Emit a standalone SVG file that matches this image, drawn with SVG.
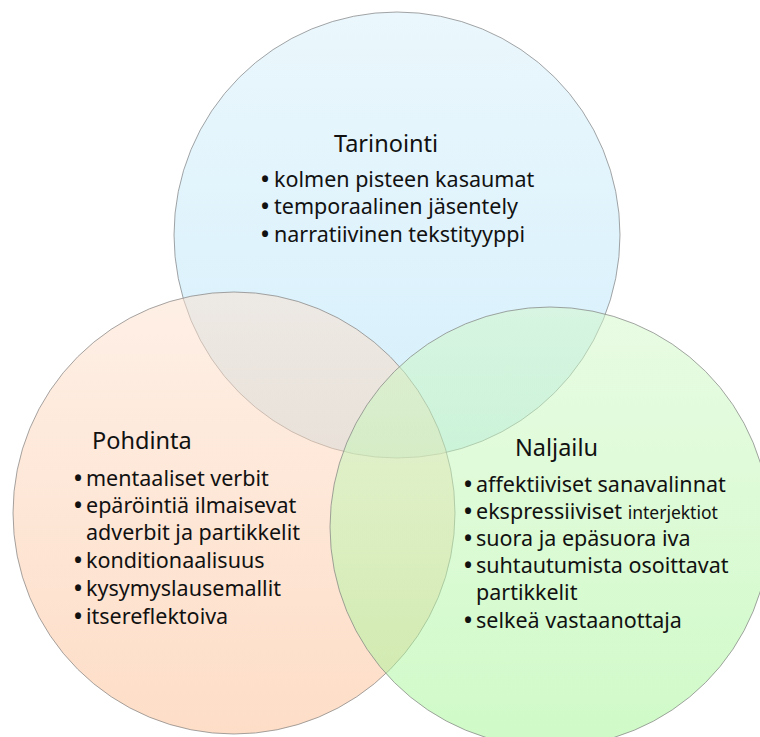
<svg xmlns="http://www.w3.org/2000/svg" width="760" height="737" viewBox="0 0 760 737">
<defs>
<linearGradient id="gb" x1="0" y1="0" x2="0" y2="1"><stop offset="0" stop-color="#d6effa"/><stop offset="1" stop-color="#abe0f8"/></linearGradient>
<linearGradient id="go" x1="0" y1="0" x2="0" y2="1"><stop offset="0" stop-color="#fde0cd"/><stop offset="1" stop-color="#fcbc8f"/></linearGradient>
<linearGradient id="gg" x1="0" y1="0" x2="0" y2="1"><stop offset="0" stop-color="#d2f8c8"/><stop offset="1" stop-color="#a0f590"/></linearGradient>
<style>
.c{stroke:#7f7f7f;stroke-width:1;stroke-opacity:0.7;fill-opacity:0.5}
text{font-family:"Noto Sans","Open Sans",sans-serif;fill:#111}
.t{font-size:23.5px}
.b{font-size:21.5px}
.d{font-weight:bold}
.s{font-size:17.5px}
</style>
</defs>
<g id="tarinointi"><circle class="c" cx="397" cy="235" r="223" fill="url(#gb)"/></g>
<g id="pohdinta"><circle class="c" cx="234" cy="513" r="221" fill="url(#go)"/></g>
<g id="naljailu"><circle class="c" cx="550" cy="527" r="220" fill="url(#gg)"/></g>
<g id="connectors"/>
<g id="tarinointi-text">
<text class="t" x="334" y="152">Tarinointi</text>
<text class="b" x="261" y="187"><tspan class="d">•</tspan><tspan x="274">kolmen pisteen kasaumat</tspan></text>
<text class="b" x="261" y="214"><tspan class="d">•</tspan><tspan x="274">temporaalinen jäsentely</tspan></text>
<text class="b" x="261" y="242"><tspan class="d">•</tspan><tspan x="274">narratiivinen tekstityyppi</tspan></text>
</g>
<g id="pohdinta-text">
<text class="t" x="92" y="449">Pohdinta</text>
<text class="b" x="74" y="486"><tspan class="d">•</tspan><tspan x="86">mentaaliset verbit</tspan></text>
<text class="b" x="74" y="513"><tspan class="d">•</tspan><tspan x="86">epäröintiä ilmaisevat</tspan><tspan x="86" y="540">adverbit ja partikkelit</tspan></text>
<text class="b" x="74" y="568"><tspan class="d">•</tspan><tspan x="86">konditionaalisuus</tspan></text>
<text class="b" x="74" y="596"><tspan class="d">•</tspan><tspan x="86">kysymyslausemallit</tspan></text>
<text class="b" x="74" y="624"><tspan class="d">•</tspan><tspan x="86">itsereflektoiva</tspan></text>
</g>
<g id="naljailu-text">
<text class="t" x="515" y="456">Naljailu</text>
<text class="b" x="464" y="492"><tspan class="d">•</tspan><tspan x="476">affektiiviset sanavalinnat</tspan></text>
<text class="b" x="464" y="519"><tspan class="d">•</tspan><tspan x="476">ekspressiiviset </tspan><tspan class="s">interjektiot</tspan></text>
<text class="b" x="464" y="546"><tspan class="d">•</tspan><tspan x="476">suora ja epäsuora iva</tspan></text>
<text class="b" x="464" y="573"><tspan class="d">•</tspan><tspan x="476">suhtautumista osoittavat</tspan><tspan x="476" y="600">partikkelit</tspan></text>
<text class="b" x="464" y="628"><tspan class="d">•</tspan><tspan x="476">selkeä vastaanottaja</tspan></text>
</g>
</svg>
